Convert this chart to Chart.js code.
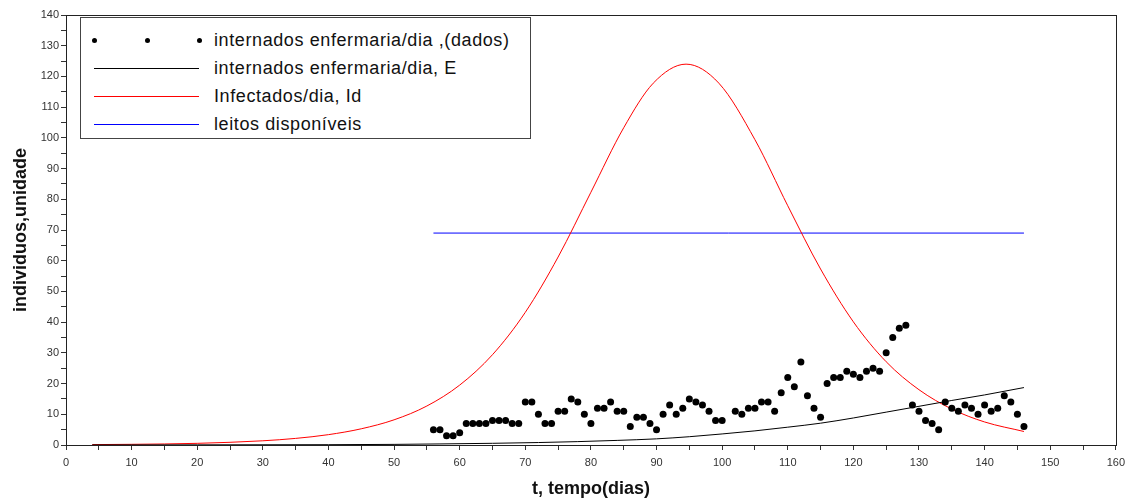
<!DOCTYPE html>
<html>
<head>
<meta charset="utf-8">
<script src="https://cdn.jsdelivr.net/npm/chart.js@4.4.1/dist/chart.umd.min.js"></script>
<style>
  body { margin: 0; background: #fff; }
  #wrap { position: relative; width: 1131px; height: 502px; }
  #legend {
    position: absolute; left: 80px; top: 17px; width: 449px; height: 120px;
    border: 1px solid #444; background: #fff;
    font-family: "Liberation Sans", Arial, sans-serif; font-size: 18px;
    letter-spacing: 0.6px; color: #111;
  }
  .row { position: absolute; left: 0; width: 100%; height: 28px; }
  .txt { position: absolute; left: 133px; top: 3px; white-space: nowrap; }
  .ln { position: absolute; left: 13px; width: 105px; top: 13px; height: 0; border-top: 1px solid; }
  .dot { position: absolute; top: 11px; width: 5px; height: 5px; border-radius: 50%; background: #000; }
</style>
</head>
<body>
<div id="wrap">
  <canvas id="chart" width="1131" height="502"></canvas>
  <div id="legend">
    <div class="row" style="top:9px">
      <span class="dot" style="left:11px"></span>
      <span class="dot" style="left:64px"></span>
      <span class="dot" style="left:116px"></span>
      <span class="txt">internados enfermaria/dia ,(dados)</span>
    </div>
    <div class="row" style="top:37px">
      <span class="ln" style="border-color:#000"></span>
      <span class="txt">internados enfermaria/dia, E</span>
    </div>
    <div class="row" style="top:65px">
      <span class="ln" style="border-color:#ff0000"></span>
      <span class="txt">Infectados/dia, Id</span>
    </div>
    <div class="row" style="top:93px">
      <span class="ln" style="border-color:#0000ff"></span>
      <span class="txt">leitos disponíveis</span>
    </div>
  </div>
</div>
<script>
// observed ward admissions per day (dots)
const dataDays = [
  56, 57, 58, 59, 60, 61, 62, 63, 64, 65, 66, 67, 68, 69, 70, 71, 72, 73, 74, 75,
  76, 77, 78, 79, 80, 81, 82, 83, 84, 85, 86, 87, 88, 89, 90, 91, 92, 93, 94, 95,
  96, 97, 98, 99, 100, 102, 103, 104, 105, 106, 107, 108, 109, 110, 111, 112, 113, 114, 115, 116,
  117, 118, 119, 120, 121, 122, 123, 124, 125, 126, 127, 128, 129, 130, 131, 132, 133, 134, 135, 136,
  137, 138, 139, 140, 141, 142, 143, 144, 145, 146
];
const dataValues = [
  5, 5, 3, 3, 4, 7, 7, 7, 7, 8, 8, 8, 7, 7, 14, 14, 10, 7, 7, 11,
  11, 15, 14, 10, 7, 12, 12, 14, 11, 11, 6, 9, 9, 7, 5, 10, 13, 10, 12, 15,
  14, 13, 11, 8, 8, 11, 10, 12, 12, 14, 14, 11, 17, 22, 19, 27, 16, 12, 9, 20,
  22, 22, 24, 23, 22, 24, 25, 24, 30, 35, 38, 39, 13, 11, 8, 7, 5, 14, 12, 11,
  13, 12, 10, 13, 11, 12, 16, 14, 10, 6
];

// model: ward admissions E (black)
const eDays = [4, 20, 40, 50, 57, 65, 72, 78, 84, 90, 95, 100, 105, 110, 115, 120, 125, 130, 135, 140, 146];
const eValues = [0.02, 0.05, 0.1, 0.2, 0.35, 0.55, 0.8, 1.1, 1.5, 2.0, 2.7, 3.6, 4.6, 5.8, 7.1, 8.8, 10.7, 12.6, 14.5, 16.3, 18.7];

// model: infected per day Id (red)
const idDays = [4, 10, 20, 30, 35, 40, 45, 50, 55, 60, 65, 70, 75, 80, 85, 89.5, 94.5, 99.5, 105, 110, 115, 120, 125, 130, 135, 140, 146];
const idValues = [0.13, 0.22, 0.54, 1.37, 2.15, 3.37, 5.28, 8.2, 12.7, 19.5, 29.4, 43.2, 61.2, 82.3, 103.3, 117.8, 124, 117.8, 99.4, 77.9, 57.3, 40.1, 27.1, 18.0, 11.7, 7.5, 4.4];

// available beds (blue)
const bedDays = [56, 146];
const bedValues = [69, 69];

// labelled ticks (minor ticks every 5 are unlabelled)
const xTickLabels = [0, 10, 20, 30, 40, 50, 60, 70, 80, 90, 100, 110, 120, 130, 140, 150, 160];
const yTickLabels = [0, 10, 20, 30, 40, 50, 60, 70, 80, 90, 100, 110, 120, 130, 140];

function pairs(xs, ys) {
  return xs.map((x, i) => ({ x: x, y: ys[i] }));
}

const frame = {
  id: "frame",
  afterDraw(chart) {
    const a = chart.chartArea;
    const ctx = chart.ctx;
    ctx.save();
    ctx.strokeStyle = "#222";
    ctx.lineWidth = 1;
    ctx.strokeRect(Math.round(a.left) + 0.5, Math.round(a.top) + 0.5,
      Math.round(a.right - a.left), Math.round(a.bottom - a.top));
    ctx.restore();
  }
};

const tickFont = { family: "Liberation Sans, Arial, sans-serif", size: 11 };
const titleFont = { family: "Liberation Sans, Arial, sans-serif", size: 18, weight: "bold" };

new Chart(document.getElementById("chart"), {
  type: "scatter",
  data: {
    datasets: [
      {
        label: "internados enfermaria/dia ,(dados)",
        data: pairs(dataDays, dataValues),
        pointRadius: 3.5,
        pointBackgroundColor: "#000",
        pointBorderWidth: 0,
        showLine: false
      },
      {
        label: "internados enfermaria/dia, E",
        data: pairs(eDays, eValues),
        showLine: true,
        borderColor: "#000",
        borderWidth: 1,
        pointRadius: 0,
        cubicInterpolationMode: "monotone"
      },
      {
        label: "Infectados/dia, Id",
        data: pairs(idDays, idValues),
        showLine: true,
        borderColor: "#ff0000",
        borderWidth: 1,
        pointRadius: 0,
        cubicInterpolationMode: "monotone"
      },
      {
        label: "leitos disponíveis",
        data: pairs(bedDays, bedValues),
        showLine: true,
        borderColor: "#0000ff",
        borderWidth: 1,
        pointRadius: 0
      }
    ]
  },
  options: {
    responsive: false,
    animation: false,
    devicePixelRatio: 1,
    layout: { padding: { top: 15, right: 15, left: 0, bottom: 0 } },
    plugins: { legend: { display: false }, tooltip: { enabled: false } },
    scales: {
      x: {
        type: "linear",
        min: 0,
        max: 160,
        afterFit(scale) { scale.height = 57; },
        ticks: {
          stepSize: 5,
          autoSkip: false,
          maxRotation: 0,
          padding: 6,
          color: "#333",
          font: tickFont,
          callback: (v) => (xTickLabels.includes(v) ? String(v) : "")
        },
        grid: { drawOnChartArea: false, tickLength: 5, tickColor: "#333" },
        border: { color: "#222" },
        title: { display: true, text: "t, tempo(dias)", color: "#111", font: titleFont, padding: { top: 0, bottom: 2 } }
      },
      y: {
        min: 0,
        max: 140,
        afterFit(scale) { scale.width = 66; },
        ticks: {
          stepSize: 5,
          autoSkip: false,
          padding: 2,
          color: "#333",
          font: tickFont,
          callback: (v) => (yTickLabels.includes(v) ? String(v) : "")
        },
        grid: { drawOnChartArea: false, tickLength: 5, tickColor: "#333" },
        border: { color: "#222" },
        title: { display: true, text: "individuos,unidade", color: "#111", font: titleFont, padding: { top: 10, bottom: 0 } }
      }
    }
  },
  plugins: [frame]
});
</script>
</body>
</html>
